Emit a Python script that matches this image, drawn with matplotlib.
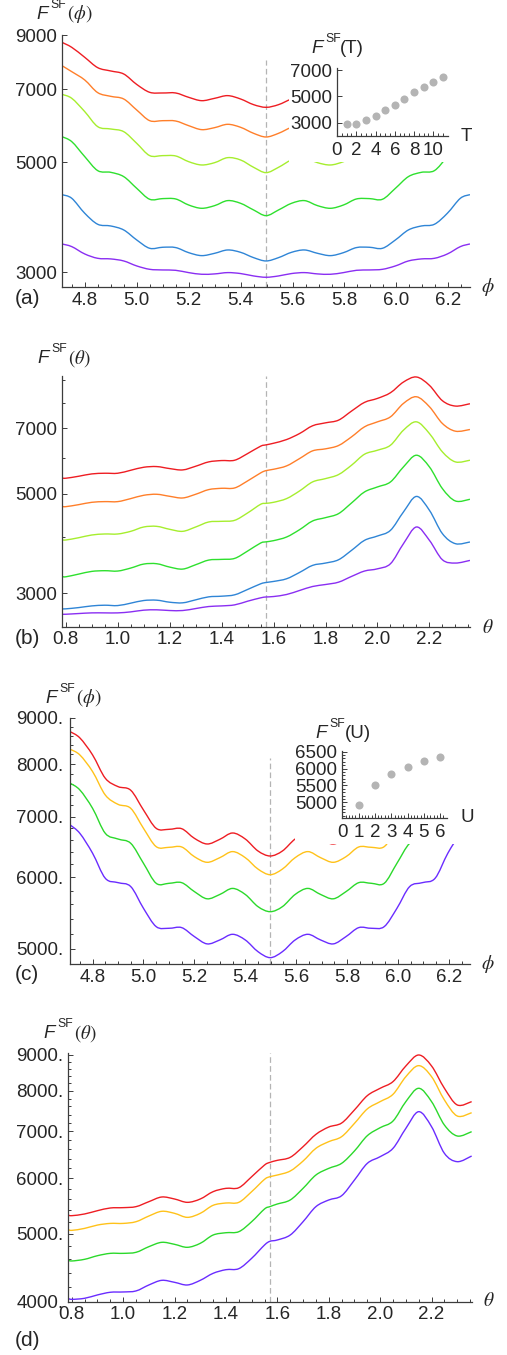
import numpy as np
import matplotlib
matplotlib.use('Agg')
import matplotlib.pyplot as plt
from matplotlib.path import Path
from matplotlib.patches import PathPatch, Rectangle

plt.rcParams['font.family'] = ['Liberation Sans', 'DejaVu Sans']

W, H = 507, 1355

# ---------------- data ----------------
phi = [4.712, 4.75, 4.80, 4.85, 4.90, 4.95, 5.00, 5.05, 5.10, 5.15, 5.20, 5.25, 5.30, 5.35, 5.40, 5.45,
       5.498,
       5.546, 5.596, 5.646, 5.696, 5.746, 5.796, 5.846, 5.896, 5.946, 5.996, 6.046, 6.096, 6.146, 6.196,
       6.246, 6.283]
theta = [0.785, 0.80, 0.85, 0.90, 0.95, 1.00, 1.05, 1.10, 1.15, 1.20, 1.25, 1.30, 1.35, 1.40, 1.45, 1.50,
         1.55, 1.571, 1.60, 1.65, 1.70, 1.75, 1.80, 1.85, 1.90, 1.95, 2.00, 2.05, 2.10, 2.15, 2.20, 2.25,
         2.30, 2.356]

# (a) F_SF(phi) for six T values
a_red = [8700, 8500, 8116, 7737, 7620, 7514, 7160, 6903, 6882, 6882, 6745, 6641, 6714, 6798, 6693, 6520,
         6440, 6520, 6693, 6798, 6714, 6641, 6745, 6882, 6882, 6903, 7160, 7514, 7620, 7737, 8116, 8500, 8700]
a_orange = [7810, 7595, 7308, 6892, 6776, 6693, 6361, 6054, 6054, 6045, 5916, 5808, 5862, 5953, 5871, 5710,
            5614, 5710, 5871, 5953, 5862, 5808, 5916, 6045, 6054, 6054, 6361, 6693, 6776, 6892, 7308, 7595, 7810]
a_lime = [6839, 6714, 6313, 5889, 5826, 5754, 5452, 5150, 5150, 5142, 5008, 4932, 4985, 5102, 5047, 4879,
          4760, 4879, 5047, 5102, 4985, 4932, 5008, 5142, 5150, 5150, 5452, 5754, 5826, 5889, 6313, 6714, 6839]
a_green = [5623, 5494, 5126, 4804, 4767, 4673, 4427, 4208, 4221, 4214, 4098, 4036, 4086, 4182, 4130, 4005,
           3901, 4005, 4130, 4182, 4086, 4036, 4098, 4214, 4221, 4208, 4427, 4673, 4767, 4804, 5126, 5494, 5623]
a_blue = [4299, 4227, 3944, 3748, 3719, 3651, 3486, 3354, 3370, 3365, 3287, 3242, 3277, 3328, 3292, 3212,
          3163, 3212, 3292, 3328, 3277, 3242, 3287, 3365, 3370, 3354, 3486, 3651, 3719, 3748, 3944, 4227, 4299]
a_purple = [3422, 3380, 3267, 3202, 3193, 3163, 3091, 3043, 3034, 3029, 2997, 2974, 2979, 2997, 2984, 2951,
            2933, 2951, 2984, 2997, 2979, 2974, 2997, 3029, 3034, 3043, 3091, 3163, 3193, 3202, 3267, 3380, 3422]

# (b) F_SF(theta) for the same six T values
b_red = [5428, 5419, 5475, 5541, 5560, 5560, 5646, 5734, 5754, 5695, 5656, 5764, 5894, 5935, 5945, 6152, 6390,
         6434, 6488, 6612, 6820, 7097, 7206, 7306, 7655, 8005, 8171, 8413, 8888, 9122, 8738, 8074, 7855, 7950]
b_orange = [4690, 4682, 4731, 4788, 4805, 4805, 4880, 4964, 4990, 4938, 4896, 4990, 5111, 5146, 5155, 5345,
            5569, 5636, 5675, 5774, 5996, 6238, 6304, 6412, 6704, 7059, 7243, 7432, 7963, 8240, 7828, 7181,
            6903, 6963]
b_lime = [3950, 3944, 3991, 4047, 4068, 4068, 4124, 4217, 4231, 4167, 4124, 4217, 4327, 4342, 4364, 4533,
          4739, 4763, 4788, 4880, 5076, 5317, 5409, 5522, 5794, 6131, 6259, 6422, 6939, 7243, 6820, 6205,
          5894, 5945]
b_green = [3270, 3264, 3310, 3356, 3368, 3362, 3414, 3485, 3491, 3431, 3396, 3473, 3557, 3570, 3588, 3726,
           3883, 3907, 3931, 4005, 4159, 4349, 4425, 4517, 4771, 5050, 5182, 5317, 5744, 6100, 5744, 5137,
           4821, 4863]
b_blue = [2768, 2768, 2786, 2810, 2820, 2815, 2850, 2889, 2894, 2864, 2855, 2899, 2944, 2954, 2975, 3058,
          3148, 3170, 3187, 3231, 3338, 3461, 3503, 3563, 3739, 3937, 4026, 4145, 4556, 4935, 4595, 4075,
          3870, 3904]
b_purple = [2692, 2692, 2702, 2711, 2711, 2711, 2725, 2749, 2754, 2744, 2744, 2772, 2801, 2810, 2825, 2879,
            2929, 2942, 2949, 2980, 3042, 3105, 3137, 3175, 3270, 3362, 3401, 3491, 3870, 4217, 3937, 3563,
            3503, 3551]

# (c) F_SF(phi) for four U values
c_red = [8685, 8549, 8187, 7716, 7554, 7484, 7118, 6794, 6777, 6788, 6624, 6529, 6607, 6714, 6612, 6414,
         6333, 6414, 6612, 6714, 6607, 6529, 6624, 6788, 6777, 6794, 7118, 7484, 7554, 7716, 8187, 8549, 8685]
c_gold = [8306, 8187, 7848, 7394, 7221, 7148, 6794, 6485, 6474, 6480, 6322, 6232, 6306, 6404, 6306, 6126,
          6039, 6126, 6306, 6404, 6306, 6232, 6322, 6480, 6474, 6485, 6794, 7148, 7221, 7394, 7848, 8187, 8306]
c_green = [7619, 7490, 7148, 6708, 6612, 6540, 6216, 5908, 5908, 5918, 5785, 5680, 5743, 5832, 5743, 5568,
           5497, 5568, 5743, 5832, 5743, 5680, 5785, 5918, 5908, 5908, 6216, 6540, 6612, 6708, 7148, 7490, 7619]
c_violet = [6852, 6708, 6377, 5984, 5918, 5859, 5544, 5292, 5270, 5279, 5160, 5065, 5116, 5190, 5116, 4966,
            4891, 4966, 5116, 5190, 5116, 5065, 5160, 5279, 5270, 5292, 5544, 5859, 5918, 5984, 6377, 6708, 6852]

# (d) F_SF(theta) for four U values
d_red = [5319, 5307, 5337, 5395, 5443, 5449, 5467, 5557, 5643, 5606, 5545, 5606, 5743, 5806, 5818, 6032, 6268,
         6323, 6366, 6429, 6658, 6933, 7103, 7196, 7513, 7874, 8067, 8246, 8681, 9000, 8681, 8067, 7637, 7721]
d_gold = [5073, 5057, 5090, 5146, 5174, 5174, 5203, 5301, 5384, 5348, 5278, 5348, 5491, 5533, 5545, 5743, 5980,
          6032, 6066, 6146, 6351, 6622, 6769, 6881, 7188, 7538, 7721, 7909, 8381, 8690, 8381, 7763, 7364, 7445]
d_green = [4588, 4573, 4598, 4653, 4689, 4689, 4705, 4793, 4862, 4830, 4783, 4846, 4980, 5018, 5035, 5203, 5425,
           5467, 5515, 5588, 5806, 6066, 6200, 6303, 6565, 6903, 7087, 7244, 7721, 8067, 7721, 7149, 6896, 6995]
d_violet = [4045, 4031, 4045, 4090, 4126, 4130, 4144, 4226, 4291, 4263, 4226, 4291, 4391, 4444, 4459, 4613,
            4819, 4878, 4900, 4980, 5203, 5467, 5588, 5667, 5967, 6303, 6443, 6622, 7071, 7470, 7110, 6514,
            6338, 6457]

# insets
T_vals = [1, 2, 3, 4, 5, 6, 7, 8, 9, 10, 11]
F_T = [2925, 2925, 3201, 3553, 3956, 4384, 4836, 5314, 5692, 6119, 6497]
U_vals = [1, 2, 3, 4, 5, 6]
F_U = [4933, 5510, 5840, 6050, 6230, 6350]

six_colors = ['#ee1d23', '#ff7f2a', '#a6ee2e', '#2ee02e', '#2f85d6', '#8a2ef2']
four_colors = ['#ee1d23', '#ffc21a', '#2bd92b', '#6a2cff']

axc = '#3c3c3c'
txc = '#262626'
fs_tick = 13.5


def curve(ax, x, y, color):
    # smooth line through the read points (Catmull-Rom in log space)
    x = np.asarray(x, float)
    ly = np.log10(np.asarray(y, float))
    n = len(x)
    verts = [(x[0], ly[0])]
    codes = [Path.MOVETO]
    for i in range(n - 1):
        a = max(i - 1, 0)
        b = min(i + 2, n - 1)
        verts += [(x[i] + (x[i + 1] - x[a]) / 6, ly[i] + (ly[i + 1] - ly[a]) / 6),
                  (x[i + 1] - (x[b] - x[i]) / 6, ly[i + 1] - (ly[b] - ly[i]) / 6),
                  (x[i + 1], ly[i + 1])]
        codes += [Path.CURVE4] * 3
    v = np.array(verts)
    v[:, 1] = 10 ** v[:, 1]
    ax.add_patch(PathPatch(Path(v, codes), fill=False, ec=color, lw=1.0, zorder=2))


def style(ax, ypad=3.4):
    for s in ['top', 'right']:
        ax.spines[s].set_visible(False)
    for s in ['left', 'bottom']:
        ax.spines[s].set_color(axc)
        ax.spines[s].set_linewidth(0.9)
    ax.tick_params(which='both', direction='in', color=axc, width=0.7, labelsize=fs_tick,
                   labelcolor=txc)
    ax.tick_params(which='major', length=3.6)
    ax.tick_params(which='minor', length=2.0)
    ax.tick_params(axis='x', pad=3.2)
    ax.tick_params(axis='y', pad=ypad)


def main_axes(l, t, r, b, xlim, ylim):
    ax = fig.add_axes([l / W, 1 - b / H, (r - l) / W, (b - t) / H])
    ax.set_yscale('log')
    ax.set_xlim(*xlim)
    ax.set_ylim(*ylim)
    ax.yaxis.set_minor_formatter(plt.NullFormatter())
    ax.set_yticks([], minor=True)
    return ax


def txt(px, py, s, **kw):
    kw.setdefault('color', txc)
    return fig.text(px / W, 1 - py / H, s, **kw)


def flabel(px, py, var, serif=True, dx=31):
    txt(px, py, 'F', style='italic', fontsize=13.5, va='baseline')
    txt(px + 14, py - 11, 'SF', fontsize=8.8, va='baseline')
    if serif:
        txt(px + dx, py, var, fontsize=13.5, va='baseline', math_fontfamily='stix')
    else:
        txt(px + dx, py, var, fontsize=13.5, va='baseline')


fig = plt.figure(figsize=(W / 100, H / 100), dpi=100)

phi_lim = (1.5 * np.pi, 2 * np.pi)
th_lim = (np.pi / 4, 3 * np.pi / 4)
phi_major = [4.8, 5.0, 5.2, 5.4, 5.6, 5.8, 6.0, 6.2]
th_major = [0.8, 1.0, 1.2, 1.4, 1.6, 1.8, 2.0, 2.2]
phi_minor = np.arange(4.75, 6.26, 0.05)
th_minor = np.arange(0.80, 2.351, 0.05)

# ---------------- (a) ----------------
ax = main_axes(62, 35, 470, 287.3, phi_lim, (2800, 9000))
for ys, c in zip([a_red, a_orange, a_lime, a_green, a_blue, a_purple], six_colors):
    curve(ax, phi, ys, c)
ax.vlines(7 * np.pi / 4, 2800, 8017, colors='#b4b4b4', lw=0.9, linestyles=(0, (4.5, 2.6)), zorder=1)
ax.add_patch(Rectangle((5.585, 5000), 1.0, 8000, fc='white', ec='none', zorder=4))
ax.set_xticks(phi_major, ['4.8', '5.0', '5.2', '5.4', '5.6', '5.8', '6.0', '6.2'])
ax.set_xticks(phi_minor, minor=True)
ax.set_yticks([3000, 5000, 7000, 9000], ['3000', '5000', '7000', '9000'])
style(ax)

ins = fig.add_axes([337 / W, 1 - 136 / H, 110.7 / W, 67.7 / H])
ins.patch.set_alpha(0)
ins.set_xlim(0, 11.5)
ins.set_ylim(2000, 7130)
ins.plot(T_vals, F_T, 'o', ms=5.8, color='#b4b4b4', mec='none', clip_on=False)
ins.set_xticks([0, 2, 4, 6, 8, 10], ['0', '2', '4', '6', '8', '10'])
ins.set_xticks(np.arange(0.5, 11.5, 0.5), minor=True)
ins.set_yticks([3000, 5000, 7000], ['3000', '5000', '7000'])
style(ins, ypad=3.6)
ins.tick_params(axis='x', pad=4.5)

flabel(36, 19.3, r'$(\phi)$')
flabel(311.7, 53.3, '(T)', serif=False, dx=28.5)
txt(466.5, 136.5, 'T', fontsize=fs_tick, ha='center', va='center')
txt(488, 286.5, r'$\phi$', fontsize=14, ha='center', va='center', math_fontfamily='stix')
txt(15, 298, '(a)', fontsize=15, va='center')

# ---------------- (b) ----------------
ax = main_axes(62, 376.4, 470, 626.7, th_lim, (2525, 9150))
for ys, c in zip([b_red, b_orange, b_lime, b_green, b_blue, b_purple], six_colors):
    curve(ax, theta, ys, c)
ax.vlines(np.pi / 2, 2525, 9150, colors='#b4b4b4', lw=0.9, linestyles=(0, (4.5, 2.6)), zorder=1)
ax.set_xticks(th_major, ['0.8', '1.0', '1.2', '1.4', '1.6', '1.8', '2.0', '2.2'])
ax.set_xticks(th_minor, minor=True)
ax.set_yticks([3000, 5000, 7000], ['3000', '5000', '7000'])
ax.set_yticks([4000, 6000, 8000, 9000], minor=True)
style(ax)

flabel(37, 363.3, r'$(\theta)$')
txt(487.5, 628, r'$\theta$', fontsize=14, ha='center', va='center', math_fontfamily='stix')
txt(15, 638, '(b)', fontsize=15, va='center')

# ---------------- (c) ----------------
ax = main_axes(70.3, 717.7, 470, 964.3, phi_lim, (4809, 9000))
for ys, c in zip([c_red, c_gold, c_green, c_violet], four_colors):
    curve(ax, phi, ys, c)
ax.vlines(7 * np.pi / 4, 4809, 8120, colors='#b4b4b4', lw=0.9, linestyles=(0, (4.5, 2.6)), zorder=1)
ax.add_patch(Rectangle((5.594, 6530), 1.0, 8000, fc='white', ec='none', zorder=4))
ax.set_xticks(phi_major, ['4.8', '5.0', '5.2', '5.4', '5.6', '5.8', '6.0', '6.2'])
ax.set_xticks(phi_minor, minor=True)
ax.set_yticks([5000, 6000, 7000, 8000, 9000], ['5000.', '6000.', '7000.', '8000.', '9000.'])
ax.set_yticks([t for t in range(5000, 9000, 200) if t % 1000], minor=True)
style(ax, ypad=4.8)

ins = fig.add_axes([342.3 / W, 1 - 817.7 / H, 104.4 / W, 66.7 / H])
ins.patch.set_alpha(0)
ins.set_xlim(0, 6.4)
ins.set_ylim(4545, 6520)
ins.plot(U_vals, F_U, 'o', ms=5.8, color='#b4b4b4', mec='none', clip_on=False)
ins.set_xticks([0, 1, 2, 3, 4, 5, 6], ['0', '1', '2', '3', '4', '5', '6'])
ins.set_xticks(np.arange(0.2, 6.4, 0.2), minor=True)
ins.set_yticks([5000, 5500, 6000, 6500], ['5000', '5500', '6000', '6500'])
ins.set_yticks(np.arange(4600, 6520, 100), minor=True)
style(ins, ypad=3.6)
ins.tick_params(axis='x', pad=4.5)

flabel(45, 702.7, r'$(\phi)$')
flabel(315, 738.3, '(U)', serif=False, dx=29.5)
txt(467, 818, 'U', fontsize=fs_tick, ha='center', va='center')
txt(488, 964, r'$\phi$', fontsize=14, ha='center', va='center', math_fontfamily='stix')
txt(15, 974, '(c)', fontsize=15, va='center')

# ---------------- (d) ----------------
ax = main_axes(68, 1053.3, 471.7, 1301.7, th_lim, (4000, 9050))
for ys, c in zip([d_red, d_gold, d_green, d_violet], four_colors):
    curve(ax, theta, ys, c)
ax.vlines(np.pi / 2, 4000, 9050, colors='#b4b4b4', lw=0.9, linestyles=(0, (4.5, 2.6)), zorder=1)
ax.set_xticks(th_major, ['0.8', '1.0', '1.2', '1.4', '1.6', '1.8', '2.0', '2.2'])
ax.set_xticks(th_minor, minor=True)
ax.set_yticks([4000, 5000, 6000, 7000, 8000, 9000],
              ['4000.', '5000.', '6000.', '7000.', '8000.', '9000.'])
ax.set_yticks([t for t in range(4200, 9000, 200) if t % 1000], minor=True)
style(ax, ypad=3.4)

flabel(43, 1038.3, r'$(\theta)$')
txt(489, 1301.5, r'$\theta$', fontsize=14, ha='center', va='center', math_fontfamily='stix')
txt(15, 1341, '(d)', fontsize=15, va='center')

fig.savefig('out.png', dpi=100)
